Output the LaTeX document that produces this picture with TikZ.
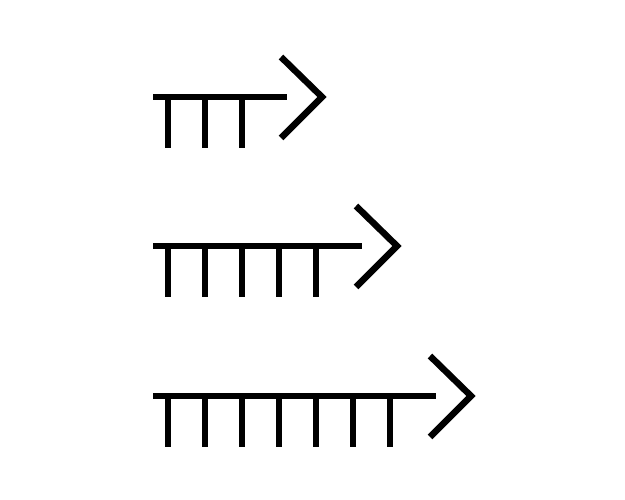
\documentclass[tikz,border=0pt]{standalone}
\begin{document}
\begin{tikzpicture}[x=1pt,y=-1pt,line width=6.5pt,
  stroke/.style={draw=black,line cap=butt,line join=miter}]
\useasboundingbox[fill=white] (0,0) rectangle (625,500);
% arrow 1
\draw[stroke] (153,97) -- (287,97);
\foreach \x in {168,205,242} \draw[stroke] (\x,97) -- (\x,148);
\draw[stroke] (281,57) -- (322,97) -- (281,138);
% arrow 2
\draw[stroke] (153,246) -- (362,246);
\foreach \x in {168,205,242,279,316} \draw[stroke] (\x,246) -- (\x,297);
\draw[stroke] (356,206) -- (397,246) -- (356,287);
% arrow 3
\draw[stroke] (153,396) -- (436,396);
\foreach \x in {168,205,242,279,316,353,390} \draw[stroke] (\x,396) -- (\x,447);
\draw[stroke] (430,356) -- (471,396) -- (430,437);
\end{tikzpicture}
\end{document}
